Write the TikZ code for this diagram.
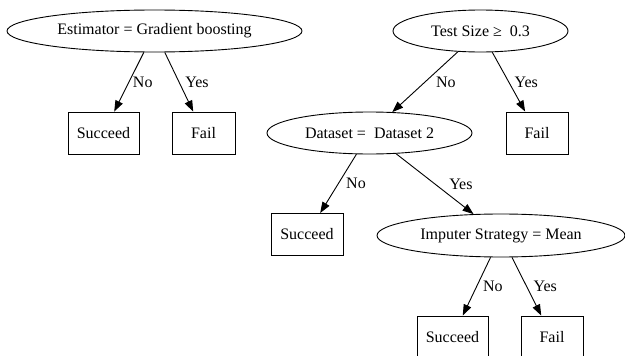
\documentclass[tikz,border=0pt]{standalone}
\usepackage{fontspec}
\setmainfont{Liberation Serif}
\usetikzlibrary{shapes.geometric,arrows.meta}
\begin{document}
\begin{tikzpicture}[x=1pt,y=-1pt,
  every node/.style={font=\fontsize{16}{19}\selectfont},
  cond/.style={ellipse,draw,line width=0.9pt,inner sep=0pt,minimum height=42pt},
  leaf/.style={rectangle,draw,line width=0.9pt,inner sep=0pt,minimum height=42pt},
  arr/.style={line width=0.9pt,-{Triangle[length=11pt,width=8pt]}},
  lbl/.style={anchor=west,inner sep=0pt}]
\useasboundingbox (0,0) rectangle (625,356);
\clip (0,0) rectangle (625,356);
\node[cond,minimum width=295pt] (est) at (154.5,31) {Estimator = Gradient boosting};
\node[leaf,minimum width=71pt] (s1) at (103.5,133) {Succeed};
\node[leaf,minimum width=63pt] (f1) at (203.5,133) {Fail};
\node[cond,minimum width=175pt] (test) at (480.5,31) {Test Size ≥\ \ 0.3};
\node[cond,minimum width=205pt] (ds) at (369.5,133) {Dataset =\ \ Dataset 2};
\node[leaf,minimum width=62pt] (f2) at (537,133) {Fail};
\node[leaf,minimum width=72pt] (s2) at (307,234.5) {Succeed};
\node[cond,minimum width=248pt,minimum height=43pt] (imp) at (501,235.5) {Imputer Strategy = Mean};
\node[leaf,minimum width=71pt] (s3) at (452.5,337) {Succeed};
\node[leaf,minimum width=62pt] (f3) at (552,337) {Fail};
\draw[arr] (est) -- node[lbl,xshift=3.5pt] {No} (s1);
\draw[arr] (est) -- node[lbl,xshift=6pt] {Yes} (f1);
\draw[arr] (test) -- node[lbl,xshift=10.5pt] {No} (ds);
\draw[arr] (test) -- node[lbl,xshift=5.5pt] {Yes} (f2);
\draw[arr] (ds) -- node[lbl,xshift=7.5pt] {No} (s2);
\draw[arr] (ds) -- node[lbl,xshift=14pt] {Yes} (imp);
\draw[arr] (imp) -- node[lbl,xshift=6pt] {No} (s3);
\draw[arr] (imp) -- node[lbl,xshift=6.5pt] {Yes} (f3);
\end{tikzpicture}
\end{document}
